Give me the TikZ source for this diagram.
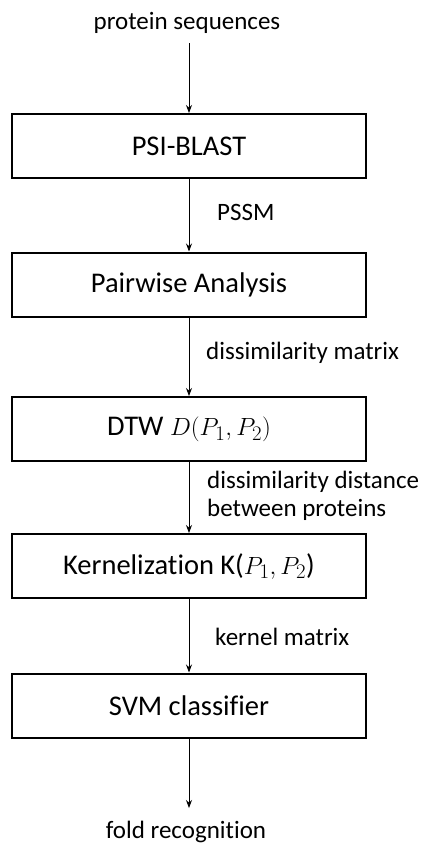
\documentclass[tikz,border=0pt]{standalone}
\usepackage{fontspec}
\setmainfont[Ligatures=NoCommon]{Carlito}
\usetikzlibrary{arrows.meta}
\begin{document}
\begin{tikzpicture}[x=1pt,y=1pt,
  box/.style={draw=black,line width=2pt,minimum width=354pt,minimum height=64pt,inner sep=0pt,font=\fontsize{28.5}{32}\selectfont},
  lbl/.style={font=\fontsize{25}{30}\selectfont,inner sep=0pt},
  arr/.style={-{Stealth[length=8pt,width=6pt]},line width=0.9pt}]
\useasboundingbox (0,0) rectangle (424,-844);
\node[lbl] (in) at (187,-23) {protein sequences};
\coordinate (inend) at (189,-43);
\node[box] (b1) at (189,-146) {PSI-BLAST};
\node[box] (b2) at (189,-284.5) {Pairwise Analysis};
\node[box] (b3) at (189,-429) {DTW $D(P_1,P_2)$};
\node[box] (b4) at (189,-566) {Kernelization K($P_1,P_2$)};
\node[box] (b5) at (189,-705.5) {SVM classifier};
\coordinate (outend) at (189,-808);
\node[lbl] (out) at (186,-832) {fold recognition};
\draw[arr] (inend) -- (b1.north);
\draw[arr] (b1.south) -- (b2.north);
\draw[arr] (b2.south) -- (b3.north);
\draw[arr] (b3.south) -- (b4.north);
\draw[arr] (b4.south) -- (b5.north);
\draw[arr] (b5.south) -- (outend);
\node[lbl,anchor=west] (l1) at (217,-212) {PSSM};
\node[lbl,anchor=west] (l2) at (206,-353) {dissimilarity matrix};
\node[lbl,anchor=west] (l3) at (207,-482) {dissimilarity distance};
\node[lbl,anchor=west] (l4) at (207,-510) {between proteins};
\node[lbl,anchor=west] (l5) at (215,-637) {kernel matrix};
\end{tikzpicture}
\end{document}
